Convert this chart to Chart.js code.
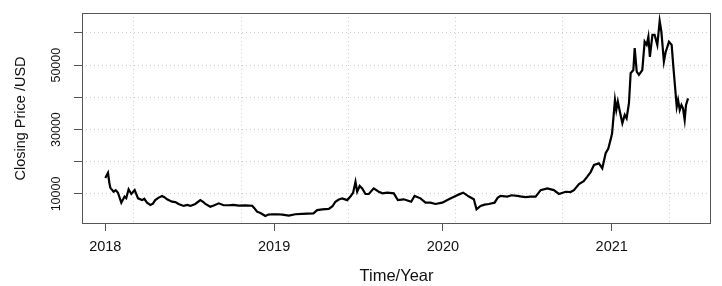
<!DOCTYPE html>
<html>
<head>
<meta charset="utf-8">
<script src="https://cdn.jsdelivr.net/npm/chart.js@4.4.0/dist/chart.umd.min.js"></script>
<style>
    html, body { margin: 0; padding: 0; background: #fff; }
    #wrap { width: 722px; height: 286px; }
</style>
</head>
<body>
<div id="wrap"><canvas id="chart"></canvas></div>
<script>
'use strict';

// decimal year of each reading, and the closing price at that time
const years = [
    2018.000, 2018.016, 2018.024, 2018.030, 2018.049, 2018.062, 2018.075, 2018.095, 2018.114, 2018.124,
    2018.138, 2018.154, 2018.174, 2018.194, 2018.218, 2018.231, 2018.247, 2018.267, 2018.282, 2018.296,
    2018.314, 2018.336, 2018.350, 2018.366, 2018.395, 2018.415, 2018.434, 2018.464, 2018.486, 2018.504,
    2018.533, 2018.563, 2018.581, 2018.593, 2018.622, 2018.646, 2018.672, 2018.701, 2018.731, 2018.759,
    2018.790, 2018.830, 2018.870, 2018.883, 2018.899, 2018.919, 2018.948, 2018.966, 2018.988, 2019.018,
    2019.049, 2019.087, 2019.126, 2019.166, 2019.197, 2019.233, 2019.255, 2019.286, 2019.324, 2019.346,
    2019.363, 2019.381, 2019.403, 2019.433, 2019.452, 2019.468, 2019.482, 2019.492, 2019.507, 2019.522,
    2019.541, 2019.561, 2019.590, 2019.620, 2019.642, 2019.670, 2019.709, 2019.733, 2019.768, 2019.790,
    2019.812, 2019.832, 2019.867, 2019.897, 2019.926, 2019.956, 2019.996, 2020.035, 2020.075, 2020.092,
    2020.120, 2020.154, 2020.183, 2020.199, 2020.223, 2020.247, 2020.272, 2020.306, 2020.324, 2020.341,
    2020.381, 2020.407, 2020.440, 2020.466, 2020.490, 2020.519, 2020.549, 2020.579, 2020.618, 2020.657,
    2020.687, 2020.727, 2020.756, 2020.776, 2020.806, 2020.834, 2020.855, 2020.875, 2020.895, 2020.924,
    2020.944, 2020.964, 2020.979, 2020.993, 2021.002, 2021.009, 2021.019, 2021.027, 2021.036, 2021.048,
    2021.063, 2021.077, 2021.088, 2021.102, 2021.112, 2021.128, 2021.136, 2021.148, 2021.161, 2021.181,
    2021.195, 2021.207, 2021.217, 2021.226, 2021.241, 2021.254, 2021.270, 2021.284, 2021.294, 2021.309,
    2021.320, 2021.330, 2021.339, 2021.355, 2021.365, 2021.375, 2021.385, 2021.393, 2021.403, 2021.413,
    2021.422, 2021.432, 2021.440, 2021.452
];

const closes = [
    15000, 16600, 13500, 11900, 10700, 11200, 10400, 7300, 9200, 8700,
    11450, 10000, 11200, 8650, 8100, 8500, 7300, 6600, 7000, 8100,
    8800, 9400, 9000, 8350, 7600, 7500, 6900, 6300, 6600, 6300,
    6900, 8100, 7500, 6900, 6050, 6500, 7100, 6500, 6500, 6600,
    6400, 6450, 6350, 5600, 4500, 4100, 3150, 3600, 3700, 3700,
    3600, 3260, 3700, 3800, 3900, 4000, 5000, 5200, 5350, 6200,
    7600, 8200, 8650, 8100, 9200, 10400, 13800, 10700, 12500, 11750,
    10000, 10000, 11750, 10700, 10200, 10400, 10200, 8100, 8350, 8000,
    7600, 9400, 8650, 7300, 7300, 6900, 7300, 8350, 9400, 9800,
    10400, 9200, 8350, 5250, 6300, 6700, 6900, 7300, 8800, 9400,
    9200, 9600, 9400, 9200, 9000, 9200, 9200, 11200, 11750, 11200,
    10000, 10700, 10600, 11200, 13100, 14000, 15400, 16800, 19000, 19500,
    18000, 22650, 24000, 26800, 28850, 33000, 39200, 36100, 38700, 35600,
    32000, 34550, 33500, 38200, 47500, 48500, 55300, 48000, 47000, 48500,
    57300, 56300, 58850, 52600, 59400, 59400, 56300, 63700, 60400, 51100,
    54200, 55750, 57300, 56300, 49500, 43300, 37100, 39200, 36100, 37650,
    36600, 33000, 37650, 39700
];

const yearTicks = [2018, 2019, 2020, 2021];
const gridYears = [2018.166, 2018.806, 2019.440, 2020.074, 2020.708, 2021.342];
const priceTicks = [10000, 20000, 30000, 40000, 50000, 60000];
const priceLabels = [10000, 30000, 50000];

const FONT = "'Liberation Sans', Arial, sans-serif";
const BOX = '#555';
const INK = '#111';

function setTicks(values) {
    return function (scale) {
        scale.ticks = values.map(function (v) { return { value: v }; });
    };
}

// frame round the plot region and the rotated price labels
const frameAndLabels = {
    id: 'frameAndLabels',
    afterDraw: function (chart) {
        const ctx = chart.ctx;
        const a = chart.chartArea;
        const y = chart.scales.y;

        ctx.save();
        ctx.strokeStyle = BOX;
        ctx.lineWidth = 1;
        ctx.strokeRect(Math.round(a.left) + 0.5, Math.round(a.top) + 0.5,
            Math.round(a.right - a.left) - 1, Math.round(a.bottom - a.top) - 1);

        ctx.fillStyle = INK;
        ctx.font = '12.5px ' + FONT;
        ctx.textAlign = 'center';
        ctx.textBaseline = 'middle';
        priceLabels.forEach(function (v) {
            ctx.save();
            ctx.translate(57, y.getPixelForValue(v));
            ctx.rotate(-Math.PI / 2);
            ctx.fillText(String(v), 0, 0);
            ctx.restore();
        });
        ctx.restore();
    },
};

new Chart(document.getElementById('chart'), {
    type: 'line',
    data: {
        datasets: [{
            data: years.map(function (t, i) { return { x: t, y: closes[i] }; }),
            borderColor: '#000',
            borderWidth: 2.2,
            pointRadius: 0,
            tension: 0,
            fill: false,
        }],
    },
    options: {
        responsive: true,
        maintainAspectRatio: false,
        animation: false,
        layout: { padding: { top: 13, right: 11, left: 0, bottom: 0 } },
        plugins: {
            legend: { display: false },
            tooltip: { enabled: false },
        },
        scales: {
            x: {
                type: 'linear',
                min: 2017.862,
                max: 2021.588,
                afterBuildTicks: setTicks(yearTicks),
                afterFit: function (scale) { scale.height = 62; },
                grid: {
                    drawOnChartArea: false,
                    drawTicks: true,
                    tickLength: 7,
                    tickColor: BOX,
                    tickWidth: 1,
                },
                border: { display: false },
                ticks: {
                    padding: 7,
                    maxRotation: 0,
                    color: INK,
                    font: { family: FONT, size: 14.5 },
                    callback: function (v) { return String(v); },
                },
                title: {
                    display: true,
                    text: 'Time/Year',
                    color: INK,
                    font: { family: FONT, size: 16.5 },
                    padding: { top: 0, bottom: 0 },
                },
            },
            xg: {
                type: 'linear',
                position: 'bottom',
                min: 2017.862,
                max: 2021.588,
                afterBuildTicks: setTicks(gridYears),
                afterFit: function (scale) { scale.height = 0; },
                grid: {
                    color: '#cfcfcf',
                    lineWidth: 1,
                    drawTicks: false,
                },
                border: { display: false, dash: [1, 3] },
                ticks: { display: false },
            },
            y: {
                type: 'linear',
                min: 680,
                max: 66211,
                afterBuildTicks: setTicks(priceTicks),
                afterFit: function (scale) { scale.width = 82; },
                grid: {
                    color: '#cfcfcf',
                    lineWidth: 1,
                    drawTicks: true,
                    tickLength: 8,
                    tickColor: BOX,
                    tickWidth: 1,
                    tickBorderDash: [],
                },
                border: { display: false, dash: [1, 3] },
                ticks: { display: false },
                title: {
                    display: true,
                    text: 'Closing Price /USD',
                    color: INK,
                    font: { family: FONT, size: 14.5 },
                    padding: { top: 12, bottom: 0 },
                },
            },
        },
    },
    plugins: [frameAndLabels],
});
</script>
</body>
</html>
